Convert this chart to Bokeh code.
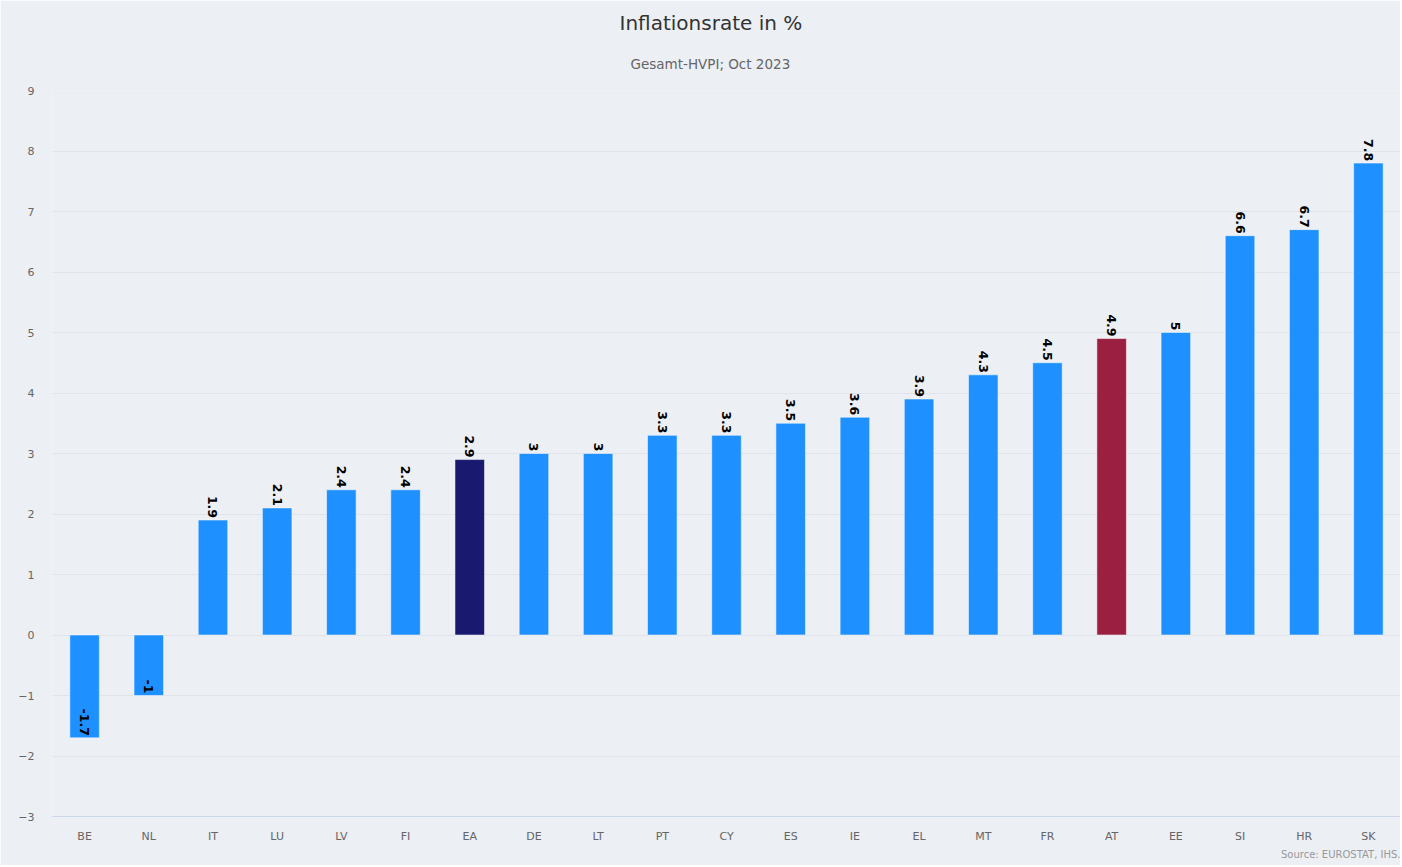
from bokeh.plotting import figure
from bokeh.models import ColumnDataSource, Range1d, FixedTicker, Title, FactorRange
from bokeh.core.properties import value
from bokeh.embed import file_html
from bokeh.resources import INLINE

countries = ["BE", "NL", "IT", "LU", "LV", "FI", "EA", "DE", "LT", "PT", "CY",
             "ES", "IE", "EL", "MT", "FR", "AT", "EE", "SI", "HR", "SK"]
rates = [-1.7, -1.0, 1.9, 2.1, 2.4, 2.4, 2.9, 3.0, 3.0, 3.3, 3.3,
         3.5, 3.6, 3.9, 4.3, 4.5, 4.9, 5.0, 6.6, 6.7, 7.8]
highlight = {"EA": "#191970", "AT": "#9b1f41"}
base_color = "#1e90ff"
y_ticks = list(range(-3, 10))

colors = [highlight.get(c, base_color) for c in countries]
labels = [f"{v:g}" for v in rates]
src = ColumnDataSource(dict(x=countries, top=rates, color=colors, label=labels))

BG = "#eceff4"
FONT = "DejaVu Sans"

p = figure(x_range=FactorRange(*countries), y_range=Range1d(-3, 9),
           width=1400, height=865, output_backend="svg", toolbar_location=None,
           background_fill_color=BG, border_fill_color=BG,
           min_border_left=52, min_border_right=0, min_border_top=90, min_border_bottom=49)
p.outline_line_color = None

p.vbar(x="x", top="top", bottom=0, width=0.46, color="color", line_color="white",
       line_alpha=0.5, line_width=1, source=src)

p.text(x="x", y="top", text="label", source=src, angle=-1.5707963, text_align="right",
       text_baseline="middle", y_offset=-2, text_font=value(FONT), text_font_size="12.5px",
       text_font_style="bold", text_color="black")

# axes
p.yaxis.ticker = FixedTicker(ticks=y_ticks)
p.yaxis.axis_line_color = None
p.yaxis.major_tick_line_color = None
p.yaxis.minor_tick_line_color = None
p.yaxis.major_label_standoff = 12
p.yaxis.major_label_text_color = "#666666"
p.yaxis.major_label_text_font = FONT
p.yaxis.major_label_text_font_size = "11px"

p.xaxis.axis_line_color = "#ccd6eb"
p.xaxis.major_tick_line_color = None
p.xaxis.minor_tick_line_color = None
p.xaxis.major_label_standoff = 7
p.xaxis.major_label_text_color = "#666666"
p.xaxis.major_label_text_font = FONT
p.xaxis.major_label_text_font_size = "11px"

p.xgrid.grid_line_color = None
p.ygrid.grid_line_color = "#e0e4ea"
p.ygrid.grid_line_width = 1

p.add_layout(Title(text="Gesamt-HVPI; Oct 2023", align="left", text_font=FONT,
                   text_font_size="13.5px", text_font_style="normal", text_color="#666666",
                   standoff=38, offset=578), "above")
p.add_layout(Title(text="Inflationsrate in %", align="left", text_font=FONT,
                   text_font_size="20px", text_font_style="normal", text_color="#333333",
                   standoff=0, offset=567), "above")
p.add_layout(Title(text="Source: EUROSTAT, IHS.", align="right", text_font=FONT,
                   text_font_size="10px", text_font_style="normal", text_color="#999999",
                   standoff=2), "below")

open("out.html", "w").write(file_html(p, INLINE))
